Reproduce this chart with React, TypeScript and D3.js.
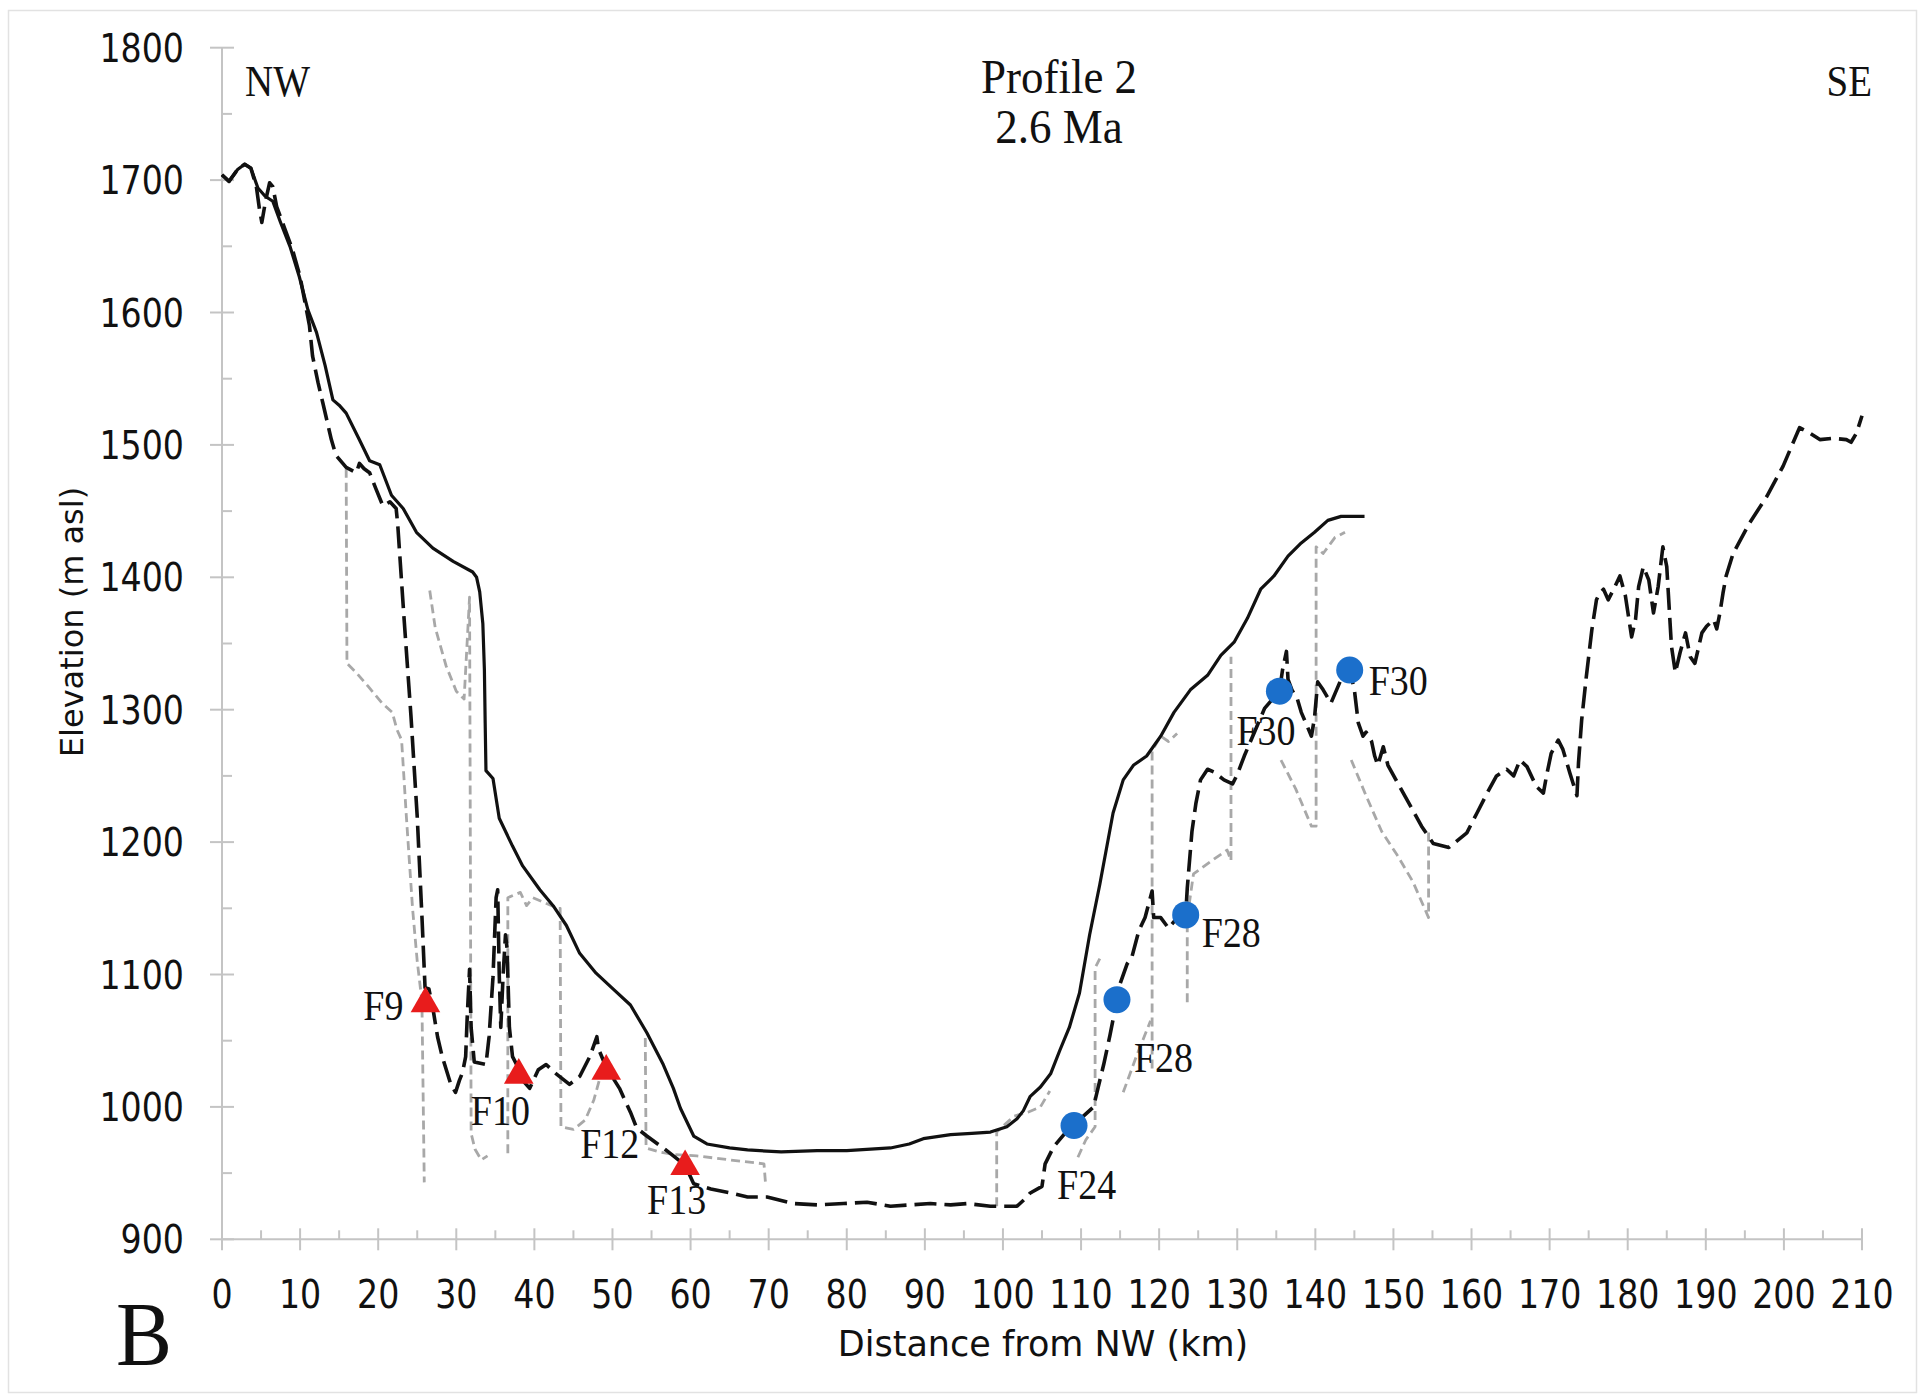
import React, { useEffect } from 'react';
import * as d3 from 'd3';

const W = 1923;
const H = 1399;

// Axes
const distanceDomain: [number, number] = [0, 210];
const elevationDomain: [number, number] = [900, 1800];
const distanceTicks = d3.range(0, 211, 10);
const distanceMinorTicks = d3.range(5, 210, 10);
const elevationTicks = d3.range(900, 1801, 100);
const elevationMinorTicks = d3.range(950, 1800, 100);

// Solid line: reconstructed 2.6 Ma surface (km, m asl)
const surface26Ma: [number, number][] = [
  [0, 1704], [0.9, 1699], [2.0, 1708], [2.9, 1712], [3.7, 1709], [4.6, 1694], [5.5, 1688], [6.5, 1684],
  [7.5, 1668], [8.7, 1650], [9.9, 1627], [11.0, 1602], [12.1, 1585], [13.2, 1560], [14.2, 1534], [15.0, 1530],
  [15.9, 1524], [17.5, 1505], [18.9, 1488], [20.2, 1485], [21.7, 1462], [23.2, 1452], [24.9, 1434], [27.0, 1422],
  [29.6, 1412], [32.1, 1404], [32.6, 1400], [33.0, 1389], [33.4, 1365], [33.6, 1330], [33.7, 1290], [33.8, 1254],
  [34.7, 1248], [35.5, 1218], [37.2, 1197], [38.5, 1182], [40.7, 1164], [42.4, 1152], [44.1, 1137], [45.8, 1116],
  [47.9, 1101], [50.1, 1089], [52.3, 1077], [54.4, 1056], [56.5, 1032], [57.8, 1014], [58.7, 999], [60.4, 978],
  [62.1, 972], [65.0, 969], [67.3, 967.5], [71.6, 966], [76.2, 967], [80.0, 967], [85.6, 969], [88.0, 972],
  [89.8, 976], [93.3, 979], [96.0, 980], [98.4, 981], [100.5, 985], [101.8, 991], [102.6, 997], [103.5, 1008],
  [104.8, 1015], [106.1, 1025], [107.3, 1043], [108.5, 1060], [109.8, 1086], [111.1, 1130], [112.4, 1168],
  [114.1, 1222], [115.4, 1247], [116.7, 1258], [118.4, 1265], [120.2, 1280], [121.9, 1298], [124.0, 1315],
  [126.2, 1326], [127.9, 1341], [129.6, 1351], [131.3, 1369], [133.0, 1391], [134.7, 1401], [136.5, 1416],
  [138.2, 1426], [139.9, 1434], [141.6, 1443], [143.3, 1446], [146.3, 1446],
];

// Black dashed line: present-day topographic profile (km, m asl)
const modernProfile: [number, number][] = [
  [0, 1704], [0.9, 1699], [2.0, 1708], [2.9, 1712], [3.7, 1709], [4.4, 1695], [4.8, 1678], [5.1, 1668],
  [5.6, 1685], [6.1, 1698], [6.5, 1695], [7.0, 1680], [8.0, 1664], [9.0, 1648], [10.0, 1627], [11.2, 1590],
  [11.6, 1567], [12.3, 1547], [12.9, 1532], [14.0, 1504], [14.6, 1492], [15.9, 1483], [17.2, 1479], [17.6, 1486],
  [18.2, 1482], [18.9, 1479], [19.7, 1467], [20.6, 1454], [21.5, 1457], [22.3, 1452], [22.5, 1440], [23.3, 1370],
  [24.2, 1295], [25.0, 1219], [25.6, 1144], [26.0, 1090], [26.5, 1089], [27.1, 1071], [27.6, 1053], [28.2, 1038],
  [29.3, 1017], [29.9, 1011], [30.4, 1020], [30.8, 1026], [31.2, 1038], [31.4, 1068], [31.7, 1104], [31.9, 1060],
  [32.3, 1034], [33.8, 1032], [34.2, 1053], [34.7, 1098], [35.1, 1158], [35.3, 1164], [35.5, 1100], [35.7, 1060],
  [36.0, 1100], [36.3, 1130], [36.5, 1120], [36.8, 1060], [37.2, 1038], [37.9, 1030], [38.5, 1020], [39.4, 1014],
  [40.5, 1028], [41.5, 1032], [42.8, 1025], [44.5, 1017], [45.8, 1023], [47.1, 1038], [48.0, 1053], [48.2, 1044],
  [49.2, 1030], [50.9, 1014], [52.3, 996], [53.1, 984], [54.4, 978], [56.5, 969], [57.8, 963], [59.3, 956],
  [60.4, 942], [62.6, 938], [65.1, 935], [67.3, 932], [69.8, 932], [73.2, 927], [76.2, 926], [79.6, 927],
  [82.6, 928], [85.6, 925], [88.1, 926], [90.7, 927], [93.3, 926], [95.4, 927], [98.4, 925], [101.8, 925],
  [103.1, 932], [103.5, 935], [105.0, 940], [105.4, 957], [106.5, 970], [107.8, 979], [109.1, 986], [110.3, 993],
  [111.6, 1000], [112.2, 1015], [112.9, 1032], [113.7, 1054], [114.6, 1081], [115.0, 1093], [115.9, 1108],
  [116.5, 1113], [117.4, 1133], [118.2, 1143], [118.6, 1152], [119.1, 1163], [119.3, 1143], [120.2, 1143],
  [121.2, 1135], [121.9, 1140], [123.4, 1145], [123.6, 1165], [124.2, 1208], [124.7, 1229], [125.3, 1247],
  [126.2, 1255], [127.0, 1253], [128.3, 1247], [129.4, 1244], [130.0, 1251], [130.9, 1265], [132.2, 1283],
  [133.5, 1301], [135.4, 1314], [135.8, 1330], [136.3, 1344], [136.5, 1323], [137.0, 1315], [137.7, 1308],
  [138.2, 1298], [139.5, 1280], [139.9, 1294], [140.3, 1321], [141.0, 1315], [142.0, 1305], [143.3, 1323],
  [144.4, 1330], [145.0, 1315], [145.5, 1290], [146.1, 1280], [146.5, 1283], [147.2, 1276], [147.6, 1265],
  [148.0, 1258], [148.7, 1272], [149.3, 1258], [150.6, 1244], [152.3, 1226], [153.6, 1212], [155.1, 1199],
  [157.1, 1196], [159.4, 1207], [160.7, 1222], [162.0, 1237], [163.2, 1250], [164.5, 1255], [165.4, 1250],
  [166.2, 1262], [167.1, 1257], [168.3, 1242], [169.2, 1237], [169.6, 1250], [170.2, 1267], [171.1, 1277],
  [171.7, 1270], [172.6, 1252], [173.5, 1235], [173.7, 1260], [174.1, 1292], [174.7, 1325], [175.4, 1360],
  [176.0, 1383], [176.4, 1388], [176.9, 1391], [177.5, 1383], [178.2, 1391], [179.0, 1401], [179.7, 1386],
  [180.5, 1355], [181.0, 1368], [181.4, 1393], [182.0, 1408], [182.7, 1398], [183.3, 1373], [183.9, 1393],
  [184.5, 1423], [185.0, 1408], [185.2, 1388], [185.6, 1348], [186.1, 1328], [186.7, 1343], [187.4, 1358],
  [188.0, 1340], [188.6, 1335], [189.5, 1358], [190.1, 1363], [191.0, 1368], [191.4, 1361], [191.8, 1373],
  [192.2, 1388], [192.6, 1401], [193.5, 1418], [195.6, 1441], [197.8, 1461], [199.9, 1484], [201.2, 1502],
  [202.0, 1513], [203.3, 1509], [204.6, 1504], [206.3, 1505], [208.0, 1504], [208.6, 1502], [209.3, 1509],
  [210.0, 1522],
];

// Grey dashed line: restored surface pieces between faults (km, m asl)
const restoredSegments: [number, number][][] = [
  [[15.9, 1482], [16.0, 1335], [17.2, 1328], [18.8, 1317], [20.5, 1305], [21.8, 1298], [22.4, 1285], [23.0, 1277],
   [23.6, 1220], [24.4, 1150], [25.0, 1110], [25.6, 1080], [25.9, 943]],
  [[26.6, 1390], [27.3, 1362], [28.7, 1333], [30.0, 1314], [31.0, 1308], [31.7, 1385], [31.8, 1200], [31.9, 980],
   [32.4, 968], [33.2, 960], [34.0, 963]],
  [[36.6, 965], [36.6, 1158], [37.4, 1160], [38.2, 1162], [39.0, 1152], [39.8, 1158], [41.0, 1155], [43.0, 1150],
   [43.3, 1150], [43.4, 985], [44.2, 984], [45.0, 983], [46.5, 990], [47.6, 1005], [48.4, 1022]],
  [[54.2, 1052], [54.3, 969], [56.0, 966], [58.0, 964], [60.8, 963], [65.0, 960], [69.4, 957], [69.6, 942]],
  [[99.2, 925], [99.2, 981], [101.4, 993], [103.2, 996], [104.8, 1000], [106.0, 1012]],
  [[109.6, 962], [110.6, 975], [111.8, 985], [111.8, 1105], [112.4, 1112]],
  [[115.4, 1011], [117.2, 1040], [118.9, 1065]],
  [[119.1, 1029], [119.1, 1269], [120.2, 1280], [121.2, 1276], [122.3, 1282]],
  [[123.6, 1079], [123.6, 1143], [124.4, 1176], [126.5, 1185], [128.7, 1194], [129.2, 1186], [129.2, 1340]],
  [[135.6, 1262], [137.5, 1240], [139.5, 1212], [140.1, 1212], [140.1, 1423], [141.0, 1418], [142.5, 1430],
   [143.8, 1434]],
  [[144.6, 1262], [146.5, 1235], [148.5, 1208], [150.5, 1190], [152.5, 1170], [154.5, 1143], [154.5, 1208]],
];

// Sites
const triangleLabels = ['F9', 'F10', 'F12', 'F13'];
const triangleKm = [26.05, 38.0, 49.2, 59.3];
const triangleElev = [1078, 1024, 1027, 955];
const circleLabels = ['F24', 'F28', 'F28', 'F30', 'F30'];
const circleKm = [109.1, 114.6, 123.4, 135.4, 144.4];
const circleElev = [986, 1081, 1145, 1314, 1330];

// label placement offsets (px) relative to the marker
const triangleLabelOffsets: [number, number, string][] = [
  [-22, 16, 'end'], [-48, 50, 'start'], [-26, 87, 'start'], [-38, 48, 'start'],
];
const circleLabelOffsets: [number, number, string][] = [
  [-17, 74, 'start'], [17, 72, 'start'], [16, 32, 'start'], [-43, 54, 'start'], [19, 25, 'start'],
];

const M = { left: 222, right: 1862, top: 47.7, bottom: 1239.3 };

function T(props: {
  x: number; y: number; size: number; family: string; anchor?: string; sx?: number; sy?: number;
  rotate?: number; fill?: string; children: React.ReactNode;
}) {
  const { x, y, size, family, anchor = 'start', sx = 1, sy = 1, rotate = 0, fill = '#111', children } = props;
  return (
    <text
      transform={`translate(${x},${y}) rotate(${rotate}) scale(${sx},${sy})`}
      fontSize={size}
      fontFamily={family}
      textAnchor={anchor as any}
      fill={fill}
    >
      {children}
    </text>
  );
}

const SANS = '"DejaVu Sans", Verdana, sans-serif';
const SERIF = '"Liberation Serif", "Times New Roman", serif';

export default function App() {
  useEffect(() => {
    document.documentElement.style.overflow = 'hidden';
    document.body.style.margin = '0';
  }, []);

  const x = d3.scaleLinear().domain(distanceDomain).range([M.left, M.right]);
  const y = d3.scaleLinear().domain(elevationDomain).range([M.bottom, M.top]);
  const line = d3.line<[number, number]>().x(d => x(d[0])).y(d => y(d[1]));
  const tri = d3.symbol().type(d3.symbolTriangle).size(380)() as string;

  const axisColor = '#c4c4c4';
  const tickSx = 0.95;
  const tickSy = 1.14;

  return (
    <svg width={W} height={H} style={{ position: 'absolute', left: 0, top: 0, background: '#fff' }}>
      <rect x={0} y={0} width={W} height={H} fill="#fff" />
      <rect x={8.5} y={10.5} width={1908} height={1382} fill="none" stroke="#e2e2e2" strokeWidth={1.5} />

      {/* axes */}
      <line x1={M.left} x2={M.left} y1={M.top} y2={M.bottom} stroke={axisColor} strokeWidth={2} />
      <line x1={M.left} x2={M.right} y1={M.bottom} y2={M.bottom} stroke={axisColor} strokeWidth={2} />
      {elevationTicks.map(v => (
        <line key={'ym' + v} x1={M.left - 12} x2={M.left + 12} y1={y(v)} y2={y(v)} stroke={axisColor} strokeWidth={2} />
      ))}
      {elevationMinorTicks.map(v => (
        <line key={'yn' + v} x1={M.left} x2={M.left + 10} y1={y(v)} y2={y(v)} stroke={axisColor} strokeWidth={2} />
      ))}
      {distanceTicks.map(v => (
        <line key={'xm' + v} x1={x(v)} x2={x(v)} y1={M.bottom - 11} y2={M.bottom + 11} stroke={axisColor} strokeWidth={2} />
      ))}
      {distanceMinorTicks.map(v => (
        <line key={'xn' + v} x1={x(v)} x2={x(v)} y1={M.bottom - 9} y2={M.bottom} stroke={axisColor} strokeWidth={2} />
      ))}

      {/* tick labels */}
      {elevationTicks.map(v => (
        <T key={'yl' + v} x={184} y={y(v) + 14} size={35} family={SANS} anchor="end" sx={tickSx} sy={tickSy}>
          {String(v)}
        </T>
      ))}
      {distanceTicks.map(v => (
        <T key={'xl' + v} x={x(v)} y={1308} size={35} family={SANS} anchor="middle" sx={tickSx} sy={tickSy}>
          {String(v)}
        </T>
      ))}

      {/* axis titles */}
      <T x={1043} y={1356} size={34} family={SANS} anchor="middle" sx={1.03} sy={1.05}>Distance from NW (km)</T>
      <T x={83} y={622} size={32} family={SANS} anchor="middle" rotate={-90} sx={1.0} sy={1.0}>Elevation (m asl)</T>

      {/* series */}
      {restoredSegments.map((seg, i) => (
        <path key={'g' + i} d={line(seg) as string} fill="none" stroke="#a8a8a8" strokeWidth={2.8}
          strokeDasharray="9,5" strokeLinejoin="round" />
      ))}
      <path d={line(surface26Ma) as string} fill="none" stroke="#111" strokeWidth={3.2} strokeLinejoin="round" />
      <path d={line(modernProfile) as string} fill="none" stroke="#111" strokeWidth={3.6}
        strokeDasharray="22,8" strokeLinejoin="round" />

      {/* markers */}
      {triangleKm.map((k, i) => (
        <path key={'t' + i} d={tri} transform={`translate(${x(k)},${y(triangleElev[i])})`} fill="#e81c1c" />
      ))}
      {circleKm.map((k, i) => (
        <circle key={'c' + i} cx={x(k)} cy={y(circleElev[i])} r={13.5} fill="#1b6fcb" />
      ))}

      {/* marker labels */}
      {triangleKm.map((k, i) => (
        <T key={'tl' + i} x={x(k) + triangleLabelOffsets[i][0]} y={y(triangleElev[i]) + triangleLabelOffsets[i][1]}
          size={38} family={SERIF} anchor={triangleLabelOffsets[i][2]} sy={1.1}>
          {triangleLabels[i]}
        </T>
      ))}
      {circleKm.map((k, i) => (
        <T key={'cl' + i} x={x(k) + circleLabelOffsets[i][0]} y={y(circleElev[i]) + circleLabelOffsets[i][1]}
          size={38} family={SERIF} anchor={circleLabelOffsets[i][2]} sy={1.1}>
          {circleLabels[i]}
        </T>
      ))}

      {/* annotations */}
      <T x={245} y={96} size={39} family={SERIF} sy={1.12}>NW</T>
      <T x={1872} y={96} size={39} family={SERIF} anchor="end" sy={1.12}>SE</T>
      <T x={1059} y={93} size={45} family={SERIF} anchor="middle" sy={1.07}>Profile 2</T>
      <T x={1059} y={143} size={45} family={SERIF} anchor="middle" sy={1.07}>2.6 Ma</T>
      <T x={116} y={1365} size={84} family={SERIF} sy={1.08}>B</T>
    </svg>
  );
}
